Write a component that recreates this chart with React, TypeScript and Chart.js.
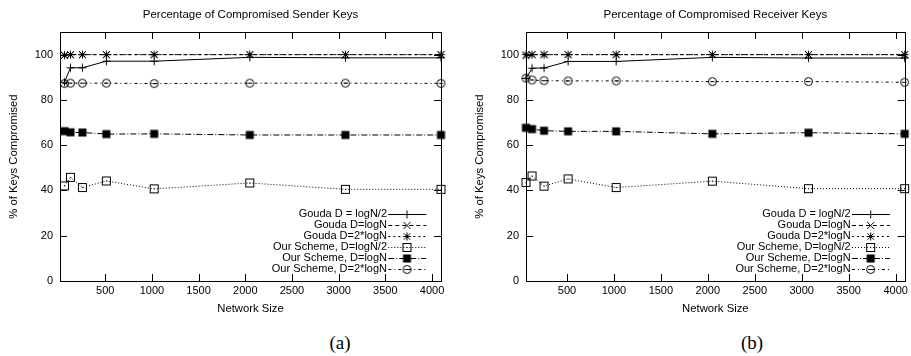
import React, { useEffect, useRef } from 'react';
import { Chart, registerables } from 'chart.js';

Chart.register(...registerables);

const networkSizes = [64, 128, 256, 512, 1024, 2048, 3072, 4096];
const xTickValues = [500, 1000, 1500, 2000, 2500, 3000, 3500, 4000];
const yTickValues = [0, 20, 40, 60, 80, 100];
const seriesLabels = [
  'Gouda D = logN/2',
  'Gouda D=logN',
  'Gouda D=2*logN',
  'Our Scheme, D=logN/2',
  'Our Scheme, D=logN',
  'Our Scheme, D=2*logN',
];

// (a) Sender keys
const senderGoudaHalf = [87.8, 94.2, 94.2, 97.1, 97.1, 98.8, 98.6, 98.6];
const senderGoudaLogN = [99.6, 100, 100, 100, 100, 100, 100, 100];
const senderGoudaTwo = [99.8, 100, 100, 100, 100, 100, 100, 100];
const senderOurHalf = [42.0, 45.8, 41.3, 44.2, 40.7, 43.3, 40.5, 40.5];
const senderOurLogN = [66.2, 65.7, 65.6, 64.9, 65.0, 64.5, 64.5, 64.5];
const senderOurTwo = [87.2, 87.4, 87.4, 87.4, 87.2, 87.4, 87.4, 87.3];

// (b) Receiver keys
const receiverGoudaHalf = [89.5, 94.0, 94.1, 97.0, 97.0, 98.8, 98.5, 98.5];
const receiverGoudaLogN = [99.5, 100, 100, 100, 100, 100, 100, 100];
const receiverGoudaTwo = [100, 100, 100, 100, 100, 100, 100, 100];
const receiverOurHalf = [43.5, 46.4, 41.9, 45.1, 41.3, 44.1, 40.8, 40.8];
const receiverOurLogN = [67.7, 67.1, 66.4, 66.1, 66.1, 65.0, 65.5, 65.0];
const receiverOurTwo = [89.6, 88.8, 88.5, 88.4, 88.4, 88.1, 88.1, 87.8];

const FONT = "'Liberation Sans', Arial, sans-serif";
const lineDashes: number[][] = [[], [4, 3], [2, 3], [1, 2], [6, 2, 1, 2], [3, 3, 1, 3]];
const markerKinds = ['plus', 'x', 'star', 'boxdot', 'box', 'circle'];

function makeMarker(kind: string): HTMLCanvasElement {
  const c = document.createElement('canvas');
  c.width = 13;
  c.height = 13;
  const g = c.getContext('2d')!;
  g.strokeStyle = '#000';
  g.fillStyle = '#000';
  g.lineWidth = 1;
  const m = 6.5;
  const line = (x1: number, y1: number, x2: number, y2: number) => {
    g.beginPath();
    g.moveTo(x1, y1);
    g.lineTo(x2, y2);
    g.stroke();
  };
  if (kind === 'plus') {
    line(m - 4, m, m + 4, m);
    line(m, m - 4, m, m + 4);
  } else if (kind === 'x') {
    line(m - 3.5, m - 3.5, m + 3.5, m + 3.5);
    line(m - 3.5, m + 3.5, m + 3.5, m - 3.5);
  } else if (kind === 'star') {
    line(m - 4, m, m + 4, m);
    line(m, m - 4, m, m + 4);
    line(m - 3.2, m - 3.2, m + 3.2, m + 3.2);
    line(m - 3.2, m + 3.2, m + 3.2, m - 3.2);
  } else if (kind === 'boxdot') {
    g.strokeRect(2.5, 2.5, 8, 8);
    g.fillRect(6, 6, 1, 1);
  } else if (kind === 'box') {
    g.fillRect(2.5, 2.5, 8, 8);
  } else if (kind === 'circle') {
    g.beginPath();
    g.arc(m, m, 4, 0, Math.PI * 2);
    g.stroke();
    line(m - 2, m, m + 2, m);
  }
  return c;
}

const H = 320;
const AREA_TOP = 32;
const AREA_BOTTOM = 281;

interface Props {
  title: string;
  series: number[][];
  xMin: number;
  width: number;
  areaLeft: number;
  areaRight: number;
  yTitleX: number;
  left: number;
}

function KeyChart({ title, series, xMin, width, areaLeft, areaRight, yTitleX, left }: Props) {
  const ref = useRef<HTMLCanvasElement>(null);
  useEffect(() => {
    const canvas = ref.current!;
    const markers = markerKinds.map(makeMarker);

    const framePlugin = {
      id: 'frame',
      beforeDatasetsDraw(chart: any) {
        const { ctx, chartArea } = chart;
        const { left: l, right: r, top: t, bottom: b } = chartArea;
        ctx.save();
        ctx.strokeStyle = '#000';
        ctx.lineWidth = 1;
        ctx.setLineDash([]);
        ctx.strokeRect(Math.round(l) + 0.5, Math.round(t) + 0.5, Math.round(r - l), Math.round(b - t));
        const xs = chart.scales.x;
        const ys = chart.scales.y;
        ctx.beginPath();
        for (const v of xTickValues) {
          const px = Math.round(xs.getPixelForValue(v)) + 0.5;
          ctx.moveTo(px, b);
          ctx.lineTo(px, b - 7);
          ctx.moveTo(px, t);
          ctx.lineTo(px, t + 7);
        }
        for (const v of yTickValues) {
          const py = Math.round(ys.getPixelForValue(v)) + 0.5;
          ctx.moveTo(l, py);
          ctx.lineTo(l + 7, py);
          ctx.moveTo(r, py);
          ctx.lineTo(r - 7, py);
        }
        ctx.stroke();
        ctx.restore();
      },
      afterDraw(chart: any) {
        const { ctx, chartArea } = chart;
        const { left: l, right: r, bottom: b } = chartArea;
        ctx.save();
        ctx.fillStyle = '#000';
        ctx.font = `11.5px ${FONT}`;
        ctx.textBaseline = 'middle';
        ctx.textAlign = 'center';
        ctx.fillText(title, (l + r) / 2, 15);
        ctx.font = `11px ${FONT}`;
        ctx.textAlign = 'right';
        chart.data.datasets.forEach((ds: any, i: number) => {
          const y = b - 67.5 + i * 11.05;
          ctx.fillText(ds.label, r - 54, y);
          ctx.strokeStyle = '#000';
          ctx.lineWidth = 1;
          ctx.setLineDash(ds.borderDash || []);
          ctx.beginPath();
          ctx.moveTo(r - 52.7, Math.round(y) + 0.5);
          ctx.lineTo(r - 14.7, Math.round(y) + 0.5);
          ctx.stroke();
          ctx.setLineDash([]);
          ctx.drawImage(markers[i], r - 34 - 6.5, Math.round(y) + 0.5 - 6.5);
        });
        ctx.restore();
      },
    };

    const chart = new Chart(canvas, {
      type: 'line',
      data: {
        datasets: series.map((ys, i) => ({
          label: seriesLabels[i],
          data: networkSizes.map((x, j) => ({ x, y: ys[j] })),
          borderColor: '#000',
          backgroundColor: '#000',
          borderWidth: 1,
          borderDash: lineDashes[i],
          pointStyle: markers[i],
          pointRadius: 4,
          pointHoverRadius: 4,
          tension: 0,
          fill: false,
          clip: false,
        })),
      },
      options: {
        responsive: false,
        animation: false,
        events: [],
        layout: { padding: { top: AREA_TOP, left: 0, right: width - areaRight, bottom: 0 } },
        plugins: {
          legend: { display: false },
          title: { display: false },
          tooltip: { enabled: false },
        },
        scales: {
          x: {
            type: 'linear',
            min: xMin,
            max: 4096,
            grid: { display: false, drawTicks: false },
            border: { display: false },
            afterBuildTicks: (s: any) => {
              s.ticks = xTickValues.map((v) => ({ value: v }));
            },
            afterFit: (s: any) => {
              s.height = H - AREA_BOTTOM;
            },
            ticks: {
              padding: 3,
              color: '#000',
              font: { size: 11, family: FONT },
              maxRotation: 0,
              autoSkip: false,
              callback: (v: any) => String(v),
            },
            title: {
              display: true,
              text: 'Network Size',
              color: '#000',
              font: { size: 11.3, family: FONT },
              padding: { top: 0, bottom: 4.4 },
            },
          },
          y: {
            type: 'linear',
            min: 0,
            max: 110,
            grid: { display: false, drawTicks: false },
            border: { display: false },
            afterBuildTicks: (s: any) => {
              s.ticks = yTickValues.map((v) => ({ value: v }));
            },
            afterFit: (s: any) => {
              s.width = areaLeft;
            },
            ticks: {
              padding: 7,
              color: '#000',
              font: { size: 11, family: FONT },
              autoSkip: false,
              callback: (v: any) => String(v),
            },
            title: {
              display: true,
              text: '% of Keys Compromised',
              color: '#000',
              font: { size: 11.3, family: FONT },
              padding: { top: yTitleX - 6.8, bottom: 0 },
            },
          },
        },
      } as any,
      plugins: [framePlugin],
    });
    return () => chart.destroy();
  }, []);
  return (
    <canvas
      ref={ref}
      width={width}
      height={H}
      style={{ position: 'absolute', left, top: 0, width, height: H }}
    />
  );
}

const captionStyle: React.CSSProperties = {
  position: 'absolute',
  top: 333,
  width: 60,
  textAlign: 'center',
  fontFamily: "'Liberation Serif', 'DejaVu Serif', serif",
  fontSize: 19,
  lineHeight: '19px',
  color: '#000',
};

export default function App() {
  return (
    <div style={{ position: 'absolute', left: 0, top: 0, width: 911, height: 356, background: '#fff', overflow: 'hidden' }}>
      <KeyChart
        title="Percentage of Compromised Sender Keys"
        series={[senderGoudaHalf, senderGoudaLogN, senderGoudaTwo, senderOurHalf, senderOurLogN, senderOurTwo]}
        xMin={16}
        width={455}
        areaLeft={60}
        areaRight={441}
        yTitleX={14}
        left={0}
      />
      <KeyChart
        title="Percentage of Compromised Receiver Keys"
        series={[receiverGoudaHalf, receiverGoudaLogN, receiverGoudaTwo, receiverOurHalf, receiverOurLogN, receiverOurTwo]}
        xMin={64}
        width={456}
        areaLeft={71}
        areaRight={451}
        yTitleX={25}
        left={455}
      />
      <div style={{ ...captionStyle, left: 310 }}>(a)</div>
      <div style={{ ...captionStyle, left: 722 }}>(b)</div>
    </div>
  );
}
